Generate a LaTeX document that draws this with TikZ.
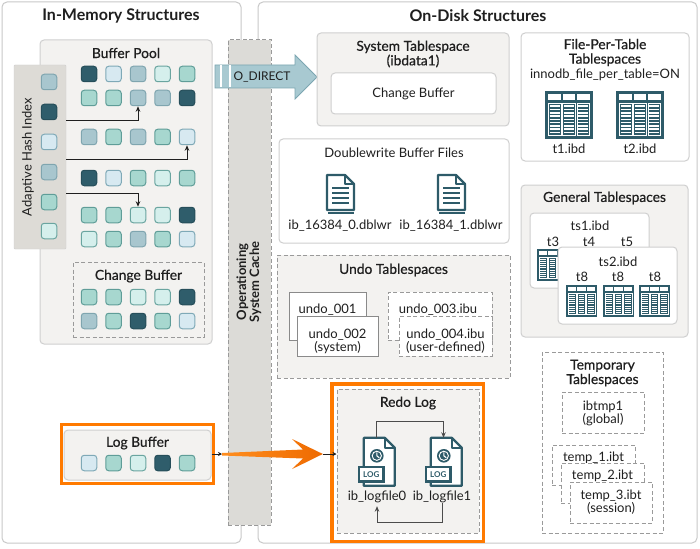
\documentclass[tikz,border=0pt]{standalone}
\usepackage{fontspec}
\setmainfont{Lato}
\newfontfamily\semib[FakeBold=0.6]{Lato}
\usetikzlibrary{arrows.meta}
\definecolor{txt}{HTML}{1F1F1F}
\definecolor{pborder}{HTML}{C9C9C9}
\definecolor{gborder}{HTML}{CFCFCF}
\definecolor{gfill}{HTML}{F3F2F0}
\definecolor{dashc}{HTML}{9A9A9A}
\definecolor{ahifill}{HTML}{DDDBD6}
\definecolor{osfill}{HTML}{DCDBD7}
\definecolor{icon}{HTML}{2E5B69}
\definecolor{orangeC}{HTML}{FF7A00}
\definecolor{orangeL}{HTML}{FF8E1F}
\definecolor{orangeD}{HTML}{EE6A00}
\definecolor{odfill}{HTML}{A8C9D1}
\definecolor{odborder}{HTML}{7CA6B1}
\definecolor{sboxc}{HTML}{8A8A8A}
\definecolor{cD}{HTML}{2F5D6B}\definecolor{bD}{HTML}{264E5A}
\definecolor{cB}{HTML}{D7E9F1}\definecolor{bB}{HTML}{7FA9B7}
\definecolor{cM}{HTML}{A8C6CE}\definecolor{bM}{HTML}{7FA5AF}
\definecolor{cT}{HTML}{A7D7CF}\definecolor{bT}{HTML}{5F9D98}
\definecolor{cL}{HTML}{D5EFEC}\definecolor{bL}{HTML}{6AA5A0}
\newcommand\sqrow[4]{\foreach \s [count=\k] in {#4}{\pgfmathsetmacro\xx{#2+24.5*(\k-1)}\node[sqbase, fill=c\s, draw=b\s] (#1-\k) at (\xx,#3) {};}}
\tikzset{
 panel/.style={draw=pborder, fill=white, line width=1pt, rounded corners=5pt},
 gbox/.style={draw=gborder, fill=gfill, line width=1pt, rounded corners=4pt},
 wbox/.style={draw=gborder, fill=white, line width=1pt, rounded corners=4pt},
 dbox/.style={draw=dashc, line width=1pt, dash pattern=on 4pt off 2.5pt},
 sbox/.style={draw=sboxc, fill=white, line width=1pt},
 sqbase/.style={minimum size=15.5pt, rounded corners=3pt, line width=1pt},
 arr/.style={draw=txt, line width=0.9pt, -{Stealth[length=5.5pt,width=4.5pt]}},
 obox/.style={draw=orangeC, line width=3.5pt},
 ttl/.style={font=\semib\fontsize{13.8}{14.5}\selectfont},
 mainttl/.style={font=\bfseries\fontsize{16}{18}\selectfont},
 lbl/.style={font=\fontsize{13}{13}\selectfont},
 pics/tbl/.style 2 args={code={
   \fill[icon] (0,0) rectangle (#1,#2);
   \pgfmathsetmacro\lw{0.032*#2}
   \foreach \k in {0,1,2}{
     \pgfmathsetmacro\xa{0.07*#1+\k*0.30*#1}
     \pgfmathsetmacro\xb{\xa+0.26*#1}
     \fill[white] (\xa,0.07*#2) rectangle (\xb,0.19*#2);
     \draw[white, line width=0.6pt] (\xa,0.25*#2) rectangle (\xb,0.93*#2);
     \foreach \j in {1,...,9}{
       \pgfmathsetmacro\yy{0.25*#2+\j*0.068*#2}
       \draw[white, line width=\lw pt] (\xa+1.2,\yy) -- (\xb-1.2,\yy);
     }
   }
 }},
 pics/doc/.style={code={
   \draw[icon, fill=white, line width=2.2pt, line join=round] (0,0) -- (18,0) -- (27,9) -- (27,35) -- (0,35) -- cycle;
   \draw[icon, line width=1.6pt, line join=round] (18,0) -- (18,9) -- (27,9);
   \foreach \yy in {13,18,23,28}{\draw[icon, line width=1.7pt] (5,\yy) -- (22,\yy);}
   \draw[icon, line width=2pt] (1,37.5) -- (27,37.5);
 }},
 pics/logf/.style={code={
   \draw[icon, fill=white, line width=2.2pt, line join=round] (6,0) -- (27,0) -- (37,10) -- (37,48) -- (6,48) -- cycle;
   \draw[icon, line width=1.6pt, line join=round] (27,0) -- (27,10) -- (37,10);
   \fill[icon] (19,18) circle[radius=6.8pt];
   \draw[white, line width=0.9pt] (19,18) circle[radius=4.6pt];
   \draw[white, line width=1.1pt] (19,14.5) -- (19,18) -- (21.5,20);
   \fill[icon] (0,28) rectangle (27,45);
   \fill[white] (2.5,30.5) rectangle (24.5,42.5);
   \node[font=\bfseries\fontsize{8}{8}\selectfont, text=icon] (-lg) at (13.5,36.5) {LOG};
 }},
}
\begin{document}
\begin{tikzpicture}[x=1pt,y=-1pt, every node/.style={inner sep=0pt, text=txt}]
\useasboundingbox (0,0) rectangle (700,548);
\fill[white] (0,0) rectangle (700,548);
% panels
\node[panel, minimum width=239, minimum height=541] (mem) at (121.5,272.5) {};
\node[panel, minimum width=439, minimum height=541] (disk) at (477.5,272.5) {};
\node[mainttl] (memt) at (121,16) {In-Memory Structures};
\node[mainttl] (diskt) at (478,16) {On-Disk Structures};
% buffer pool
\node[gbox, minimum width=172, minimum height=304] (bp) at (126,192) {};
\node[ttl] (bpt) at (126,53) {Buffer Pool};
\sqrow{bp1}{89}{74}{D,B,M,L,T}
\sqrow{bp2}{89}{98}{T,T,M,M,D}
\sqrow{bp3}{89}{137}{M,T,M,T,B}
\sqrow{bp4}{89}{178}{D,B,T,L,T}
\sqrow{bp5}{89}{215}{T,T,L,L,D}
\sqrow{bp6}{89}{239}{L,T,M,T,B}
% adaptive hash index
\node[draw=gborder, fill=ahifill, rounded corners=1pt, minimum width=52, minimum height=184] (ahi) at (40,157) {};
\node[lbl, rotate=90] (ahit) at (28,157) {Adaptive Hash Index};
\foreach \s/\yy [count=\k] in {M/82,D/112,B/142,M/172,T/202,L/231}{\node[sqbase, fill=c\s, draw=b\s] (ahi-\k) at (49,\yy) {};}
\coordinate (a1) at (66,120);
\coordinate (a2) at (66,159);
\coordinate (a3) at (66,193);
\draw[arr] (a1) -| (bp2-3.south);
\draw[arr] (a2) -| (bp3-5.south);
\draw[arr] (a3) -| (bp5-3.north);
% change buffer
\node[dbox, minimum width=131, minimum height=75] (cb) at (138.5,299.5) {};
\node[ttl] (cbt) at (138.5,276) {Change Buffer};
\sqrow{cb1}{89}{297}{T,T,L,L,D}
\sqrow{cb2}{89}{321}{M,T,D,T,B}
% log buffer
\node[obox, minimum width=152, minimum height=59] (lbo) at (137.5,454) {};
\node[gbox, minimum width=147, minimum height=50] (lb) at (137.5,455) {};
\node[ttl] (lbt) at (137.5,443) {Log Buffer};
\sqrow{lb1}{89}{463}{B,T,L,D,T}
% OS cache strip
\node[dbox, fill=osfill, minimum width=43, minimum height=485] (os) at (249.5,282.5) {};
\node[rotate=90, align=center, font=\bfseries\fontsize{13}{13}\selectfont] (ost) at (249,282) {Operationing\\System Cache};
% O_DIRECT arrow
\draw[draw=odborder, fill=odfill, line width=0.8pt, line join=miter] (215,65) -- (295,65) -- (295,55) -- (317,77) -- (295,99) -- (295,88) -- (215,88) -- cycle;
\draw[white, line width=1.5pt] (221,65.5) -- (221,87.5);
\draw[white, line width=2pt] (229.5,65.5) -- (229.5,87.5);
\node[font=\fontsize{12}{14}\selectfont] (odt) at (262,77) {O\_DIRECT};
% system tablespace
\node[gbox, minimum width=192, minimum height=93] (sys) at (413,79.5) {};
\node[ttl, align=center] (syst) at (413,54) {System Tablespace\\(ibdata1)};
\node[wbox, lbl, minimum width=165, minimum height=41] (syscb) at (413.5,93.5) {Change Buffer};
% file-per-table
\node[wbox, minimum width=168, minimum height=128] (fpt) at (605,97) {};
\node[ttl, align=center] (fptt) at (605,52.5) {File-Per-Table\\Tablespaces};
\node[lbl] (fpto) at (605,75) {innodb\_file\_per\_table=ON};
\pic at (545,91) {tbl={48}{48}};
\pic at (616,91) {tbl={48}{48}};
\node[lbl] (t1l) at (569,149) {t1.ibd};
\node[lbl] (t2l) at (640,149) {t2.ibd};
% doublewrite
\node[wbox, minimum width=230, minimum height=104] (dw) at (394,191) {};
\node[lbl] (dwt) at (394,153) {Doublewrite Buffer Files};
\pic at (327,175) {doc};
\pic at (438,175) {doc};
\node[lbl] (dw0) at (340,226) {ib\_16384\_0.dblwr};
\node[lbl] (dw1) at (451,226) {ib\_16384\_1.dblwr};
% general tablespaces
\node[gbox, minimum width=167, minimum height=152] (gen) at (604.5,261) {};
\node[ttl] (gent) at (604.5,198) {General Tablespaces};
\node[wbox, minimum width=119, minimum height=75] (ts1) at (589.5,250.5) {};
\node[lbl] (ts1t) at (590,226) {ts1.ibd};
\node[lbl] (t3) at (553,242) {t3};
\node[lbl] (t4) at (589,242) {t4};
\node[lbl] (t5) at (627,242) {t5};
\pic at (537,249) {tbl={31}{32}};
\node[wbox, minimum width=119, minimum height=77] (ts2) at (617.5,285.5) {};
\node[lbl] (ts2t) at (618,262) {ts2.ibd};
\foreach \xx [count=\k] in {582,618,655}{\node[lbl] (t8-\k) at (\xx,277) {t8};}
\foreach \xx in {566,603,639}{\pic at (\xx,285) {tbl={31}{32}};}
% undo tablespaces
\node[dbox, fill=gfill, minimum width=233, minimum height=123] (undo) at (393.5,316.5) {};
\node[ttl] (undot) at (393.5,270) {Undo Tablespaces};
\node[sbox, minimum width=77, minimum height=48] (u1) at (327.5,316) {};
\node[lbl] (u1t) at (327.5,310) {undo\_001};
\node[sbox, minimum width=81, minimum height=40] (u2) at (337.5,336) {};
\node[lbl, align=center] (u2t) at (337.5,341) {undo\_002\\(system)};
\node[dbox, fill=white, minimum width=104, minimum height=48] (u3) at (440,316) {};
\node[lbl, align=center] (u3t) at (438,316) {undo\_003.ibu\\(user-defined)};
\node[dbox, fill=white, minimum width=93, minimum height=40] (u4) at (445.5,336) {};
\node[lbl, align=center] (u4t) at (445.5,341) {undo\_004.ibu\\(user-defined)};
% temporary tablespaces
\node[dbox, minimum width=121, minimum height=181] (tmp) at (602.5,442.5) {};
\node[ttl, align=center] (tmpt) at (602.5,373) {Temporary\\Tablespaces};
\node[dbox, fill=white, minimum width=82, minimum height=41] (ibt) at (603,412.5) {};
\node[lbl, align=center] (ibtt) at (603,413) {ibtmp1\\(global)};
\node[dbox, fill=white, minimum width=83, minimum height=40] (tp1) at (593.5,465) {};
\node[lbl] (tp1t) at (593.5,458) {temp\_1.ibt};
\node[dbox, fill=white, minimum width=83, minimum height=40] (tp2) at (602.5,483) {};
\node[lbl] (tp2t) at (602.5,476) {temp\_2.ibt};
\node[dbox, fill=white, minimum width=82, minimum height=41] (tp3) at (611,502.5) {};
\node[lbl, align=center] (tp3t) at (611,502) {temp\_3.ibt\\(session)};
% redo log
\node[obox, minimum width=151.5, minimum height=157.5] (redoo) at (407.5,462.5) {};
\node[dbox, fill=gfill, minimum width=142, minimum height=144] (redo) at (408,461) {};
\node[ttl] (redot) at (408,403) {Redo Log};
\node[minimum width=37, minimum height=48] (lf0) at (376.5,462) {};
\node[minimum width=37, minimum height=48] (lf1) at (443.5,462) {};
\pic (lf0i) at (lf0.north west) {logf};
\pic (lf1i) at (lf1.north west) {logf};
\node[lbl] (lf0l) at (377,497) {ib\_logfile0};
\node[lbl] (lf1l) at (442,497) {ib\_logfile1};
\coordinate (rt) at (0,421);
\coordinate (rb) at (0,522);
\draw[arr, draw=black!70] (lf0.north) -- (lf0.north |- rt) -| (lf1.north);
\draw[arr, draw=black!70, shorten >=3pt] (lf1l.south) -- (lf1l.south |- rb) -| (lf0l.south);
% log buffer to redo log
\coordinate (ob1) at (222,454);
\coordinate (ob2) at (323,454);
\draw[draw=txt, line width=0.8pt, -{Stealth[length=4pt,width=4pt]}] (lb.east |- ob1) -- (ob1);
\shade[left color=orangeL, right color=orangeD] (222,453) -- (303,449.5) -- (292,439) .. controls (303,444) and (314,450) .. (ob2) .. controls (314,458) and (303,464) .. (292,469) -- (303,458.5) -- (222,455.5) -- cycle;
\draw[draw=txt, line width=0.8pt, -{Stealth[length=4pt,width=4pt]}] (ob2) -- (ob2 -| redo.west);
\end{tikzpicture}
\end{document}
